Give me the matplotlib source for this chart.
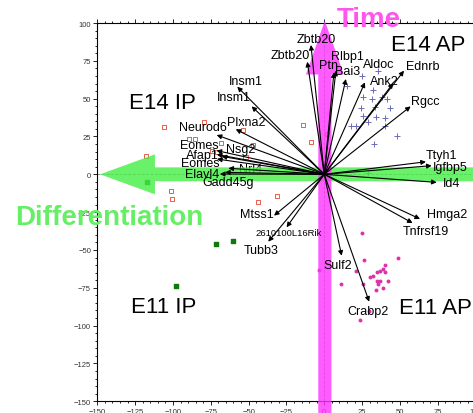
import matplotlib
matplotlib.use("Agg")
import matplotlib.pyplot as plt
from matplotlib.patches import FancyArrow
from matplotlib.ticker import MultipleLocator

plt.rcParams['font.family'] = ['Liberation Sans', 'DejaVu Sans']

# ---- gene loading vectors (arrow tips) ----
genes = ["Zbtb20", "Zbtb20", "Rlbp1", "Ptn", "Bai3", "Aldoc", "Ank2", "Ednrb", "Rgcc",
         "Insm1", "Insm1", "Plxna2", "Neurod6", "Eomes", "Afap1", "Eomes", "Nsg2",
         "Nrl4", "Elavl4", "Gadd45g",
         "Ttyh1", "Igfbp5", "Id4", "Hmga2", "Tnfrsf19",
         "Mtss1", "2610100L16Rik", "Tubb3", "Sulf2", "Crabp2"]
gene_x = [-8.8, -11.2, 7.7, 6.4, 14.3, 26.9, 45.6, 52.7, 57.1,
          -57.5, -48.0, -58.5, -71.1, -71.2, -71.0, -70.9, -67.8,
          -63.4, -69.0, -65.6,
          67.2, 71.0, 74.3, 63.3, 58.4,
          -33.2, -24.9, -37.0, 11.5, 29.7]
gene_y = [85.5, 74.4, 68.5, 67.4, 63.0, 60.8, 60.3, 68.5, 44.9,
          57.9, 44.9, 29.8, 26.0, 15.7, 13.1, 10.1, 11.9,
          4.0, 0.2, 1.3,
          8.3, 5.7, -5.3, -29.5, -32.2,
          -27.3, -35.0, -44.5, -53.8, -84.2]
label_x = [-5.5, -22.3, 15.3, 2.5, 15.3, 36.0, 39.9, 65.2, 66.5,
           -51.8, -59.7, -51.3, -80.4, -82.5, -80.8, -82.0, -55.4,
           -48.4, -80.8, -63.6,
           77.6, 83.6, 83.9, 80.9, 67.4,
           -44.5, -23.5, -41.4, 8.9, 28.6]
label_y = [89.4, 79.0, 78.4, 72.2, 68.0, 73.1, 61.9, 71.5, 48.4,
           61.9, 50.8, 34.4, 31.0, 19.5, 13.0, 7.5, 16.7,
           3.5, 0.5, -5.4,
           12.6, 4.8, -5.6, -26.2, -37.7,
           -26.4, -38.6, -50.0, -59.7, -90.5]

# ---- sample scores ----
e14ip_x = [-79.5, -106.0, -89.5, -85.5, -68.5, -118.0, -101.3, -100.7, -74.2, -71.1,
           -31.5, -43.6, -53.9, -14.3, -9.0, -46.9, -52.0, 1.6]
e14ip_y = [34.8, 31.5, 23.3, 23.3, 20.5, 12.3, -11.2, -16.3, 15.6, 14.9,
           -14.1, -18.5, 29.5, 32.6, 21.2, 19.4, 11.6, 26.6]

e11ip_x = [-71.6, -60.5, -98.2, -117.2]
e11ip_y = [-46.3, -44.1, -73.6, -4.9]

e14ap_x = [35.8, 15.3, 24.7, 32.2, 25.6, 31.3, 37.9, 41.2, 24.1, 33.5, 43.4, 25.4,
           34.4, 40.1, 17.9, 21.0, 29.1, 40.4, 48.0, 33.0, 28.9]
e14ap_y = [68.5, 58.4, 65.2, 55.8, 50.9, 49.8, 50.9, 49.8, 43.6, 44.7, 43.6, 38.7,
           37.7, 37.0, 32.1, 32.1, 34.4, 31.9, 25.3, 20.0, 0.8]

e11ap_x = [24.8, 26.3, 48.5, -3.3, 21.0, 39.9, 34.8, 36.8, 38.5, 40.1, 30.3, 32.0,
           35.0, 36.6, 42.2, 35.5, 39.0, 34.2, 25.4, 11.3, 23.6, 29.3]
e11ap_y = [-38.8, -56.6, -55.3, -63.0, -63.7, -59.7, -64.4, -63.7, -62.8, -64.8, -68.1, -67.0,
           -70.7, -70.7, -70.3, -72.8, -75.1, -76.4, -72.5, -72.5, -96.5, -90.2]

quadrants = ["E14 AP", "E14 IP", "E11 IP", "E11 AP"]
quad_x = [44.0, -106.7, -106.3, 49.4]
quad_y = [86.0, 47.5, -87.4, -87.7]

fig = plt.figure(figsize=(4.73, 4.14), dpi=100)
ax = fig.add_axes([0.2057, 0.0283, 0.7997, 0.9137])
ax.set_xlim(-150, 100)
ax.set_ylim(-150, 100)

ax.xaxis.set_major_locator(MultipleLocator(25))
ax.yaxis.set_major_locator(MultipleLocator(25))
ax.xaxis.set_minor_locator(MultipleLocator(5))
ax.yaxis.set_minor_locator(MultipleLocator(5))
ax.tick_params(which='both', direction='out', top=True, right=True,
               labeltop=False, labelright=False, width=0.6)
ax.tick_params(which='major', length=3, labelsize=5.5, labelcolor='#333333', pad=1.5)
ax.tick_params(which='minor', length=1.6)
for s in ax.spines.values():
    s.set_linewidth(0.8)

# scatter points
ax.scatter(e14ip_x, e14ip_y, marker='s', s=9, facecolors='none',
           edgecolors='#e8604c', linewidths=0.7, zorder=2)
ax.scatter(e11ip_x, e11ip_y, marker='s', s=8, color='#0c7a0c', zorder=2)
ax.scatter(e14ap_x, e14ap_y, marker='+', s=22, color='#6b6bbb', linewidths=0.7, zorder=2)
ax.scatter(e11ap_x, e11ap_y, marker='o', s=8, color='#dd33aa', linewidths=0, zorder=2)

# dashed reference lines
ax.axhline(0, color='#888888', ls='--', lw=0.6, zorder=1)
ax.axvline(0, color='#888888', ls='--', lw=0.6, zorder=1)

# big coloured arrows
ax.add_patch(FancyArrow(110, 0, -258.2, 0, width=9.2, head_width=26.4,
                        head_length=36.3, length_includes_head=True,
                        facecolor='#44ee44', edgecolor='none', alpha=0.8, zorder=3))
ax.add_patch(FancyArrow(0.4, -160, 0, 261.5, width=8.7, head_width=25,
                        head_length=35.5, length_includes_head=True,
                        facecolor='#ff33ff', edgecolor='none', alpha=0.8, zorder=3,
                        clip_on=False))

ax.text(29.5, 102.8, "Time", color='#ff55ee', fontsize=20, fontweight='bold',
        ha='center', va='center', clip_on=False, zorder=6)
ax.text(-142.3, -28.2, "Differentiation", color='#66ee66', fontsize=20,
        fontweight='bold', ha='center', va='center', clip_on=False, zorder=6)

# gene arrows
for g, tx, ty, lx, ly in zip(genes, gene_x, gene_y, label_x, label_y):
    ax.annotate('', xy=(tx, ty), xytext=(0, 0),
                arrowprops=dict(arrowstyle='-|>', color='black', lw=0.8,
                                mutation_scale=7, shrinkA=0, shrinkB=0), zorder=4)
    fs = 6.8 if g == "2610100L16Rik" else 9
    z = 2.5 if g == "Nrl4" else 5
    ax.text(lx, ly, g, fontsize=fs, ha='center', va='center', color='black', zorder=z)

for q, qx, qy in zip(quadrants, quad_x, quad_y):
    ha = 'center' if 'IP' in q else 'left'
    ax.text(qx, qy, q, fontsize=16, ha=ha, va='center', color='black', zorder=5,
            clip_on=False)

fig.savefig("out.png", dpi=100)
